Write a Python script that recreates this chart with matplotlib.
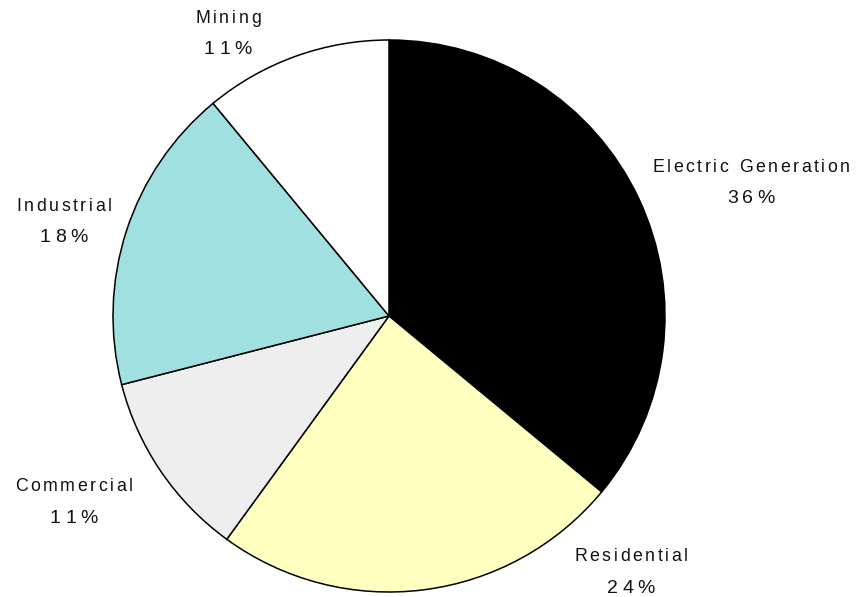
import matplotlib

matplotlib.use("Agg")
import matplotlib.pyplot as plt
from matplotlib.font_manager import FontProperties, findfont, get_font

W, H, DPI = 856, 597, 100

sectors = ["Electric Generation", "Residential", "Commercial", "Industrial", "Mining"]
shares = [36, 24, 11, 18, 11]
colors = ["#000000", "#FFFFC0", "#EEEEEE", "#A0E0E0", "#FFFFFF"]

# label anchors in image pixels: (centre x, baseline of name, baseline of percent)
label_pos = {
    "Electric Generation": (751, 172, 203),
    "Residential": (631, 561, 593),
    "Commercial": (74, 491, 523),
    "Industrial": (64, 211, 242),
    "Mining": (228, 23, 54),
}

FONT = "Liberation Sans"


def tracked_text(fig, xc, y_base, s, size, tracking):
    # matplotlib has no letter spacing, so place glyphs one by one
    font = get_font(findfont(FontProperties(family=FONT)))
    font.set_size(size, DPI)
    adv = [font.load_char(ord(ch)).linearHoriAdvance / 65536 for ch in s]
    total = sum(adv) + tracking * (len(s) - 1)
    x = xc - total / 2
    for ch, a in zip(s, adv):
        fig.text(x, H - y_base, ch, transform=None, ha="left", va="baseline",
                 fontsize=size, family=FONT, color="#111111")
        x += a + tracking


fig = plt.figure(figsize=(W / DPI, H / DPI), dpi=DPI)
ax = fig.add_axes([0, 0, 1, 1])
ax.pie(
    shares,
    colors=colors,
    startangle=90,
    counterclock=False,
    center=(389, H - 316),
    radius=276,
    wedgeprops=dict(edgecolor="black", linewidth=1.1),
)
ax.set_xlim(0, W)
ax.set_ylim(0, H)
ax.set_aspect("auto")
ax.axis("off")

for name, share in zip(sectors, shares):
    xc, yn, yp = label_pos[name]
    tracked_text(fig, xc, yn, name, 12.8, 2.6)
    tracked_text(fig, xc, yp, f"{share}%", 14, 4.5)

fig.savefig("out.png", dpi=DPI)
